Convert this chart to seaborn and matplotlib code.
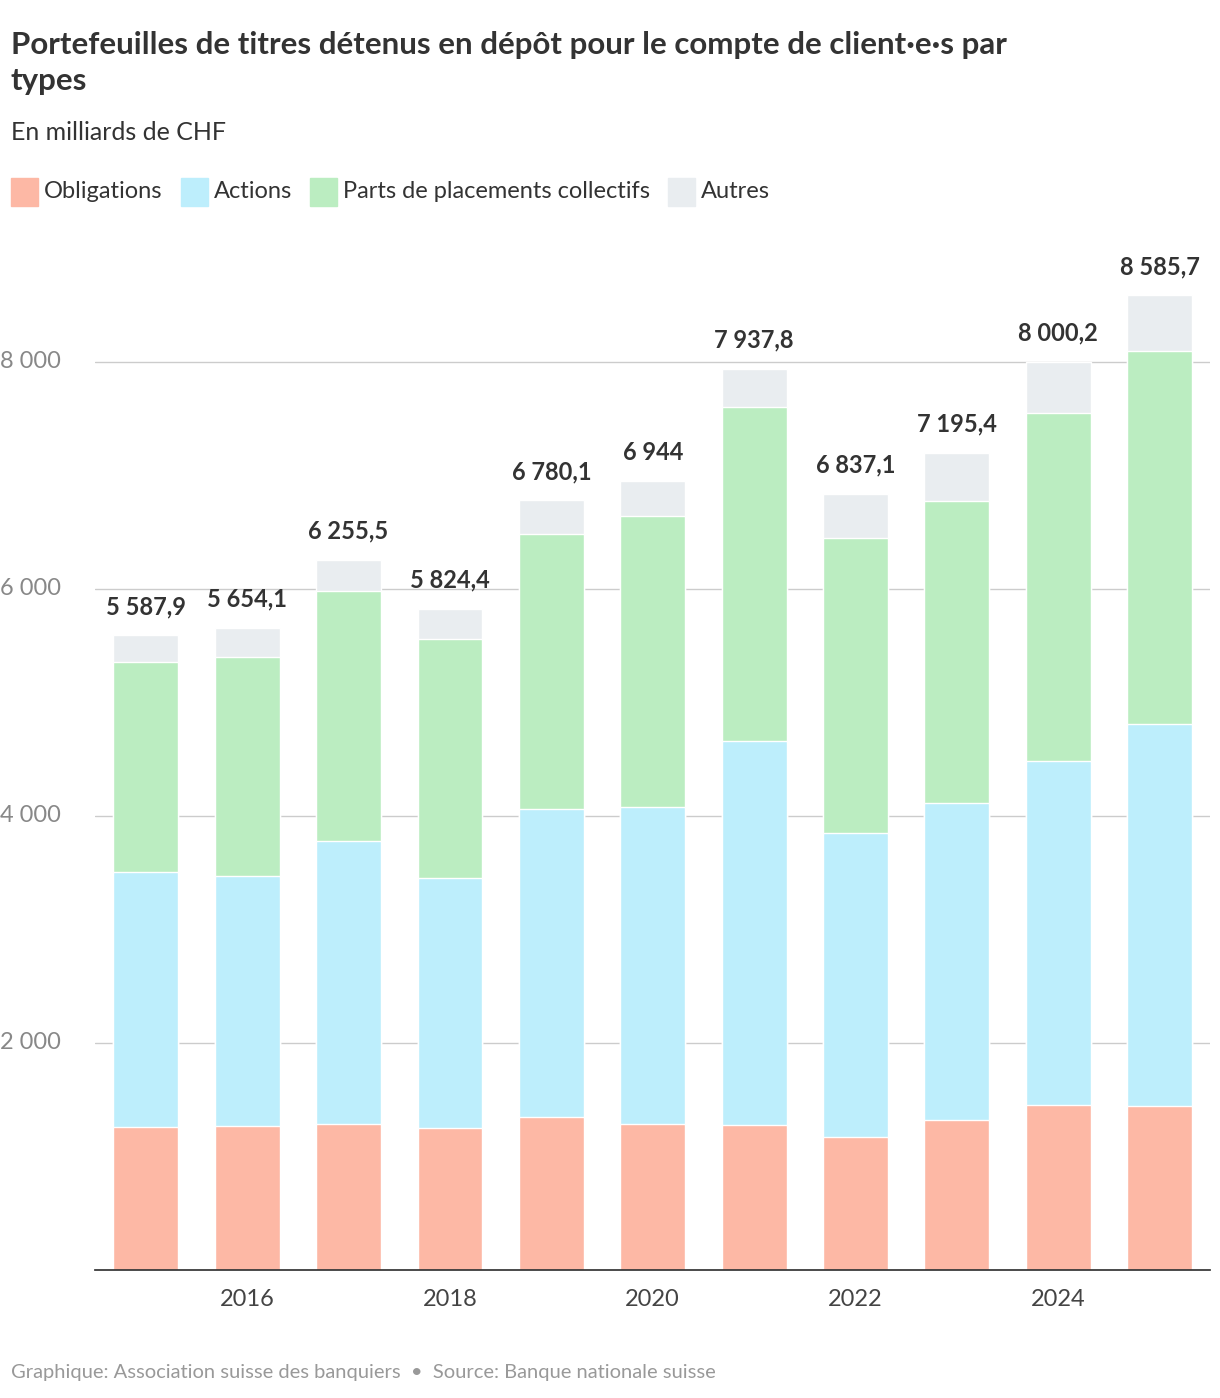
import matplotlib
matplotlib.use("Agg")
import matplotlib.pyplot as plt
import seaborn as sns
import numpy as np
import pandas as pd

years = list(range(2015, 2026))
obligations = [1260, 1269, 1286, 1251, 1348, 1286, 1277, 1172, 1322, 1454, 1445]
actions = [2246, 2202, 2493, 2203, 2713, 2793, 3383, 2678, 2792, 3030, 3365]
placements = [1851, 1929, 2203, 2105, 2423, 2564, 2943, 2599, 2661, 3066, 3286]
totals = [5587.9, 5654.1, 6255.5, 5824.4, 6780.1, 6944.0, 7937.8, 6837.1, 7195.4, 8000.2, 8585.7]

colors = {"Obligations": "#fdb8a5", "Actions": "#bdeefc",
          "Parts de placements collectifs": "#bbedc1", "Autres": "#e9edf0"}

sns.set_theme(style="white")
plt.rcParams["font.family"] = ["Lato", "DejaVu Sans"]

df = pd.DataFrame({"year": [str(y) for y in years]})
df["Autres"] = totals
df["Parts de placements collectifs"] = np.array(obligations) + np.array(actions) + np.array(placements)
df["Actions"] = np.array(obligations) + np.array(actions)
df["Obligations"] = obligations

fig = plt.figure(figsize=(12.2, 13.98), dpi=100)
ax = fig.add_axes([0.078, 0.0916, 0.914, 0.731])

for col in ["Autres", "Parts de placements collectifs", "Actions", "Obligations"]:
    sns.barplot(data=df, x="year", y=col, color=colors[col], width=0.64,
                saturation=1, ax=ax, zorder=3)

def fmt(v):
    s = f"{v:,.1f}".replace(",", " ").replace(".", ",")
    return s[:-2] if s.endswith(",0") else s

for i, t in enumerate(totals):
    ax.text(i, t + 150, fmt(t), ha="center", va="bottom", fontsize=17,
            fontweight="bold", color="#333333")

ax.set_ylim(0, 9000)
ax.set_xlim(-0.5, 10.5)
ax.set_yticks([2000, 4000, 6000, 8000])
ax.set_yticklabels([])
ax.grid(axis="y", color="#cccccc", linewidth=1, zorder=0)
for v in [2000, 4000, 6000, 8000]:
    ax.text(-0.085, v, f"{v:,}".replace(",", " "), transform=ax.get_yaxis_transform(),
            ha="left", va="center", fontsize=17, color="#888888")
ax.set_xticks(range(1, 11, 2))
ax.set_xticklabels([str(y) for y in years[1::2]], fontsize=17, color="#444444")
ax.tick_params(axis="x", length=0, pad=14)
ax.tick_params(axis="y", length=0)
ax.set_xlabel("")
ax.set_ylabel("")
for s in ["top", "right", "left"]:
    ax.spines[s].set_visible(False)
ax.spines["bottom"].set_color("#333333")
ax.spines["bottom"].set_zorder(4)

fig.text(0.009, 0.978, "Portefeuilles de titres détenus en dépôt pour le compte de client·e·s par\ntypes",
         fontsize=22.5, fontweight="bold", color="#333333", va="top", linespacing=1.35)
fig.text(0.009, 0.905, "En milliards de CHF", fontsize=18, color="#333333", va="center")

lx = 0.009
for name in ["Obligations", "Actions", "Parts de placements collectifs", "Autres"]:
    fig.patches.append(plt.Rectangle((lx, 0.853), 0.022, 0.02, transform=fig.transFigure,
                                     color=colors[name], figure=fig))
    t = fig.text(lx + 0.027, 0.863, name, fontsize=17, color="#333333", va="center")
    fig.canvas.draw()
    bb = t.get_window_extent()
    lx = bb.x1 / fig.bbox.width + 0.015

fig.text(0.009, 0.018, "Graphique: Association suisse des banquiers  \u2022  Source: Banque nationale suisse",
         fontsize=14.5, color="#999999", va="center")

fig.savefig("out.png", dpi=100)
